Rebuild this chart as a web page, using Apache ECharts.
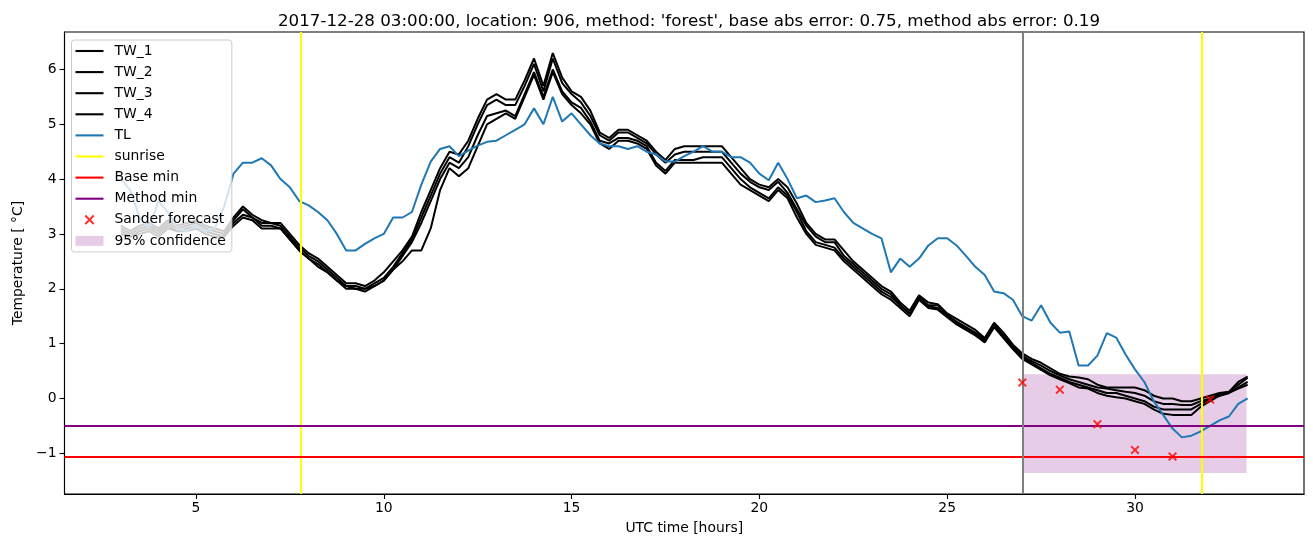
<!DOCTYPE html>
<html><head><meta charset="utf-8">
<script src="https://cdn.jsdelivr.net/npm/echarts@6/dist/echarts.min.js"></script>
<style>html,body{margin:0;padding:0;background:#fff}#c{width:1313px;height:547px}</style>
</head><body><div id="c"></div>
<script>
// sampling grid: hours from 3.00 to 33.00, every 15 minutes
const times = [];
for (let i = 0; i <= 120; i++) times.push(3 + 0.25 * i);

const TL = [
 4.00,3.80,3.30,3.10,3.60,3.40,3.10,3.05,
 3.15,3.05,3.10,3.50,4.10,4.30,4.30,4.38,
 4.25,4.00,3.85,3.60,3.52,3.40,3.25,3.00,
 2.70,2.70,2.82,2.92,3.00,3.30,3.30,3.40,
 3.90,4.32,4.55,4.60,4.42,4.52,4.61,4.68,
 4.70,4.80,4.90,5.00,5.29,5.00,5.50,5.05,
 5.20,5.00,4.80,4.65,4.60,4.60,4.55,4.60,
 4.50,4.45,4.32,4.32,4.42,4.50,4.60,4.50,
 4.50,4.40,4.40,4.30,4.10,3.98,4.30,4.00,
 3.65,3.70,3.58,3.61,3.65,3.40,3.20,3.10,
 3.00,2.92,2.30,2.55,2.40,2.55,2.79,2.92,
 2.92,2.79,2.60,2.40,2.25,1.95,1.92,1.80,
 1.50,1.42,1.70,1.38,1.20,1.22,0.60,0.60,
 0.78,1.19,1.11,0.80,0.53,0.30,-0.05,-0.30,
 -0.55,-0.71,-0.68,-0.60,-0.50,-0.40,-0.33,-0.10,
 0.00];

const TW_1 = [
 3.15,3.05,3.15,3.20,3.10,3.25,3.15,3.20,
 3.25,3.15,3.10,3.05,3.30,3.50,3.35,3.25,
 3.20,3.20,3.00,2.80,2.65,2.55,2.40,2.25,
 2.10,2.10,2.05,2.15,2.30,2.50,2.70,2.95,
 3.40,3.80,4.20,4.50,4.45,4.70,5.10,5.45,
 5.55,5.45,5.45,5.80,6.20,5.70,6.30,5.85,
 5.60,5.50,5.25,4.85,4.75,4.90,4.90,4.80,
 4.70,4.50,4.35,4.55,4.60,4.60,4.60,4.60,
 4.60,4.40,4.20,4.00,3.90,3.85,4.00,3.85,
 3.55,3.20,3.00,2.90,2.90,2.70,2.50,2.35,
 2.20,2.05,1.95,1.75,1.60,1.88,1.75,1.72,
 1.55,1.45,1.35,1.25,1.10,1.38,1.20,0.98,
 0.82,0.72,0.65,0.55,0.45,0.40,0.38,0.35,
 0.25,0.20,0.20,0.20,0.20,0.15,0.05,0.00,
 0.00,-0.05,-0.05,0.00,0.05,0.10,0.12,0.30,
 0.40];

const TW_2 = [
 3.10,3.00,3.10,3.15,3.05,3.20,3.10,3.15,
 3.20,3.10,3.05,3.00,3.25,3.45,3.30,3.20,
 3.20,3.15,2.95,2.75,2.60,2.50,2.35,2.20,
 2.05,2.05,2.00,2.10,2.20,2.40,2.65,2.90,
 3.30,3.70,4.10,4.40,4.30,4.60,5.00,5.35,
 5.45,5.35,5.35,5.70,6.10,5.60,6.20,5.75,
 5.55,5.40,5.15,4.80,4.70,4.85,4.85,4.75,
 4.65,4.45,4.30,4.45,4.50,4.50,4.50,4.50,
 4.50,4.30,4.10,3.95,3.85,3.80,3.95,3.75,
 3.45,3.15,2.95,2.85,2.85,2.60,2.45,2.30,
 2.15,2.00,1.90,1.70,1.55,1.85,1.70,1.70,
 1.52,1.40,1.30,1.20,1.08,1.35,1.15,0.95,
 0.78,0.68,0.60,0.50,0.42,0.35,0.30,0.25,
 0.20,0.18,0.15,0.12,0.10,0.05,-0.05,-0.10,
 -0.10,-0.12,-0.12,-0.05,0.00,0.08,0.12,0.25,
 0.38];

const TW_3 = [
 3.05,2.95,3.05,3.10,3.00,3.15,3.05,3.10,
 3.15,3.05,3.00,2.95,3.20,3.35,3.30,3.15,
 3.15,3.10,2.90,2.70,2.55,2.45,2.30,2.15,
 2.05,2.00,1.95,2.05,2.15,2.35,2.60,2.85,
 3.20,3.60,4.00,4.30,4.20,4.40,4.80,5.15,
 5.20,5.25,5.15,5.55,5.95,5.50,6.00,5.60,
 5.40,5.30,5.05,4.70,4.65,4.75,4.75,4.70,
 4.60,4.30,4.15,4.35,4.35,4.35,4.40,4.40,
 4.40,4.20,4.00,3.85,3.75,3.65,3.85,3.70,
 3.40,3.05,2.85,2.80,2.75,2.55,2.40,2.25,
 2.10,1.95,1.85,1.70,1.55,1.82,1.68,1.65,
 1.50,1.38,1.28,1.18,1.05,1.32,1.12,0.92,
 0.75,0.65,0.55,0.45,0.38,0.30,0.25,0.20,
 0.15,0.10,0.10,0.05,0.00,-0.05,-0.15,-0.20,
 -0.20,-0.20,-0.20,-0.10,-0.02,0.05,0.10,0.20,
 0.30];

const TW_4 = [
 3.00,2.95,3.00,3.05,2.95,3.10,3.05,3.05,
 3.10,3.00,2.95,2.95,3.15,3.30,3.25,3.10,
 3.10,3.10,2.90,2.70,2.55,2.40,2.30,2.15,
 2.00,2.00,2.00,2.05,2.15,2.35,2.50,2.70,
 2.70,3.10,3.80,4.20,4.05,4.20,4.60,5.00,
 5.10,5.20,5.10,5.50,5.90,5.45,5.95,5.55,
 5.35,5.20,5.00,4.65,4.55,4.70,4.70,4.65,
 4.55,4.25,4.10,4.30,4.30,4.30,4.30,4.30,
 4.30,4.10,3.90,3.80,3.70,3.60,3.80,3.65,
 3.30,3.00,2.80,2.75,2.70,2.50,2.35,2.20,
 2.05,1.90,1.80,1.65,1.50,1.80,1.65,1.62,
 1.48,1.35,1.25,1.15,1.02,1.30,1.10,0.90,
 0.72,0.62,0.52,0.42,0.35,0.28,0.20,0.18,
 0.10,0.05,0.02,0.00,-0.05,-0.10,-0.20,-0.28,
 -0.30,-0.30,-0.30,-0.15,-0.05,0.05,0.10,0.18,
 0.25];

const sanderHours = [27, 28, 29, 30, 31, 32];
const sanderValues = [0.29, 0.16, -0.47, -0.94, -1.06, -0.02];

const sunriseHours = [7.79, 31.77];
const forecastHour = 27.0;
const baseMin = -1.06;
const methodMin = -0.49;
const ciHours = [27.0, 32.97];
const ciRange = [-1.36, 0.44];

const xTicks = [5, 10, 15, 20, 25, 30];
const yTicks = [-1, 0, 1, 2, 3, 4, 5, 6];
const xRange = [1.5, 34.5];
const yRange = [-1.743, 6.683];

const titleText = "2017-12-28 03:00:00, location: 906, method: 'forest', base abs error: 0.75, method abs error: 0.19";

const FONT = 'DejaVu Sans';
const pair = v => times.map((t, i) => [t, v[i]]);
const xPath = 'path://M0,1.5L1.5,0L5,3.5L8.5,0L10,1.5L6.5,5L10,8.5L8.5,10L5,6.5L1.5,10L0,8.5L3.5,5Z';
const linePath = 'path://M0,0H28V2.1H0Z';
const lbl = {fontFamily: FONT, fontSize: 13.9, color: '#000'};

function twSeries(name, data) {
  return {name, type: 'line', data: pair(data), symbol: 'none', silent: true,
    lineStyle: {color: '#000', width: 2}, itemStyle: {color: '#000'}, z: 2};
}
function vline(name, color, xs) {
  return {name, type: 'line', data: [], symbol: 'none', silent: true,
    itemStyle: {color}, lineStyle: {color, width: 2},
    markLine: {silent: true, symbol: ['none', 'none'], label: {show: false},
      lineStyle: {color, width: 2, type: 'solid'}, animation: false,
      data: xs.map(x => ({xAxis: x}))}, z: 3};
}
function hline(name, color, y) {
  return {name, type: 'line', data: [], symbol: 'none', silent: true,
    itemStyle: {color}, lineStyle: {color, width: 2},
    markLine: {silent: true, symbol: ['none', 'none'], label: {show: false},
      lineStyle: {color, width: 2, type: 'solid'}, animation: false,
      data: [{yAxis: y}]}, z: 3};
}

const chart = echarts.init(document.getElementById('c'));
chart.setOption({
  animation: false,
  title: {text: titleText, left: 684, top: 8, textAlign: 'center',
    textStyle: {fontFamily: FONT, fontSize: 16.7, fontWeight: 'normal', color: '#000'}},
  grid: {left: 64.5, right: 9, top: 32, bottom: 53, show: true, borderColor: '#000', borderWidth: 1.1},
  xAxis: {type: 'value', min: xRange[0], max: xRange[1],
    name: 'UTC time [hours]', nameLocation: 'middle', nameGap: 27, nameTextStyle: lbl,
    axisLine: {show: true, onZero: false, lineStyle: {color: '#000', width: 1.1}},
    axisTick: {show: true, length: 5, lineStyle: {color: '#000', width: 1.1}, customValues: xTicks},
    axisLabel: Object.assign({customValues: xTicks, margin: 7}, lbl),
    splitLine: {show: false}},
  yAxis: {type: 'value', min: yRange[0], max: yRange[1],
    name: 'Temperature [ °C]', nameLocation: 'middle', nameGap: 38, nameTextStyle: lbl,
    axisLine: {show: true, onZero: false, lineStyle: {color: '#000', width: 1.1}},
    axisTick: {show: true, length: 5, lineStyle: {color: '#000', width: 1.1}, customValues: yTicks},
    axisLabel: Object.assign({customValues: yTicks, margin: 8,
      formatter: v => String(v).replace('-', '\u2212')}, lbl),
    splitLine: {show: false}},
  legend: {orient: 'vertical', left: 71.5, top: 40, itemWidth: 28, itemHeight: 10, itemGap: 7.1,
    padding: [4, 6, 4, 4], backgroundColor: 'rgba(255,255,255,0.8)', borderColor: '#cccccc',
    borderWidth: 1, borderRadius: 3, selectedMode: false, symbolKeepAspect: true,
    textStyle: {fontFamily: FONT, fontSize: 13.9, color: '#000', padding: [0, 0, 0, 6]},
    data: [
      {name: 'TW_1', icon: linePath}, {name: 'TW_2', icon: linePath},
      {name: 'TW_3', icon: linePath}, {name: 'TW_4', icon: linePath},
      {name: 'TL', icon: linePath}, {name: 'sunrise', icon: linePath},
      {name: 'Base min', icon: linePath}, {name: 'Method min', icon: linePath},
      {name: 'Sander forecast', icon: xPath},
      {name: '95% confidence', icon: 'rect', itemStyle: {color: 'rgba(128,0,128,0.2)'}}]},
  series: [
    twSeries('TW_1', TW_1), twSeries('TW_2', TW_2), twSeries('TW_3', TW_3), twSeries('TW_4', TW_4),
    {name: 'TL', type: 'line', data: pair(TL), symbol: 'none', silent: true,
      lineStyle: {color: '#1f77b4', width: 2}, itemStyle: {color: '#1f77b4'}, z: 2},
    vline('sunrise', '#ffff00', sunriseHours),
    hline('Base min', '#ff0000', baseMin),
    hline('Method min', '#800080', methodMin),
    vline('forecast time', '#808080', [forecastHour]),
    {name: 'Sander forecast', type: 'scatter', symbol: xPath, symbolSize: 9, silent: true,
      data: sanderHours.map((h, i) => [h, sanderValues[i]]), itemStyle: {color: '#ff0000'}, z: 5},
    {name: '95% confidence', type: 'line', data: [], symbol: 'none', silent: true,
      itemStyle: {color: 'rgba(128,0,128,0.2)'}, lineStyle: {width: 0},
      markArea: {silent: true, itemStyle: {color: 'rgba(128,0,128,0.2)'},
        data: [[{xAxis: ciHours[0], yAxis: ciRange[0]}, {xAxis: ciHours[1], yAxis: ciRange[1]}]]}, z: 4}
  ]
});
</script></body></html>
